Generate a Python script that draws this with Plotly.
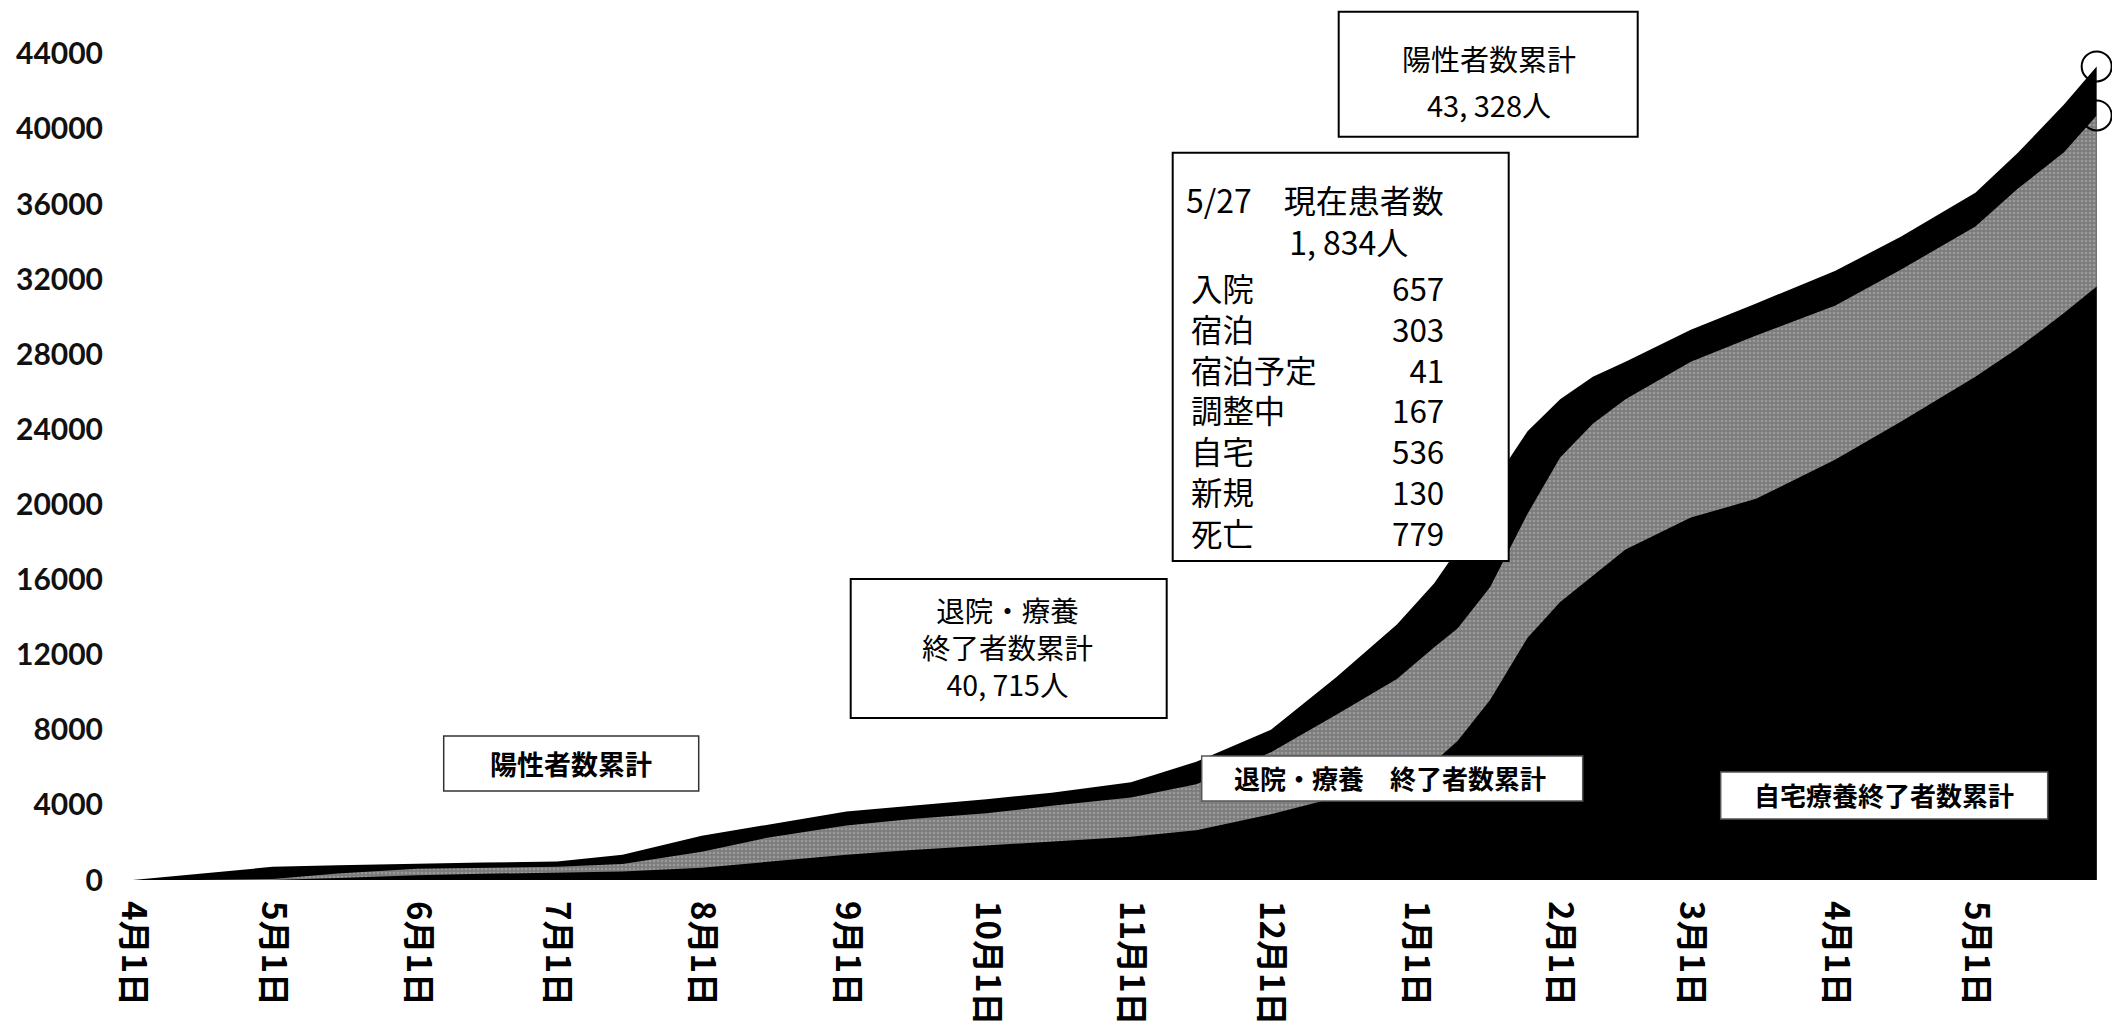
import plotly.graph_objects as go

# ---------------- data ----------------
dates = ['2020-04-01', '2020-04-15', '2020-05-01', '2020-05-15', '2020-06-01', '2020-06-15',
         '2020-07-01', '2020-07-15', '2020-08-01', '2020-08-15', '2020-09-01', '2020-09-15',
         '2020-10-01', '2020-10-15', '2020-11-01', '2020-11-15', '2020-12-01', '2020-12-15',
         '2020-12-28', '2021-01-05', '2021-01-10', '2021-01-17', '2021-01-25', '2021-02-01',
         '2021-02-08', '2021-02-15', '2021-03-01', '2021-03-15', '2021-04-01', '2021-04-15',
         '2021-05-01', '2021-05-10', '2021-05-20', '2021-05-27']

positive_cum = [0, 330, 700, 790, 880, 930,
                980, 1350, 2350, 2950, 3650, 3950,
                4300, 4650, 5200, 6300, 8000, 10800,
                13600, 15800, 17600, 20900, 23900, 25600,
                26800, 27600, 29300, 30700, 32450, 34250,
                36600, 38700, 41300, 43328]

recovered_cum = [0, 0, 50, 350, 600, 660,
                 700, 850, 1500, 2250, 2900, 3250,
                 3550, 3950, 4400, 5100, 6800, 8800,
                 10700, 12400, 13400, 15600, 19500, 22500,
                 24300, 25600, 27600, 29000, 30600, 32500,
                 34800, 36800, 38750, 40715]

home_cum = [0, 0, 0, 100, 250, 330,
            380, 450, 650, 950, 1350, 1600,
            1850, 2050, 2300, 2650, 3500, 4400,
            5400, 6300, 7400, 9600, 12900, 14800,
            16200, 17600, 19300, 20300, 22400, 24400,
            26800, 28300, 30200, 31600]

tick_dates = ['2020-04-01', '2020-05-01', '2020-06-01', '2020-07-01', '2020-08-01',
              '2020-09-01', '2020-10-01', '2020-11-01', '2020-12-01', '2021-01-01',
              '2021-02-01', '2021-03-01', '2021-04-01', '2021-05-01']
tick_text = ['4月1日', '5月1日', '6月1日', '7月1日', '8月1日', '9月1日', '10月1日',
             '11月1日', '12月1日', '1月1日', '2月1日', '3月1日', '4月1日', '5月1日']
y_ticks = list(range(0, 44001, 4000))

table_labels = ['入院', '宿泊', '宿泊予定', '調整中', '自宅', '新規', '死亡']
table_values = ['657', '303', '41', '167', '536', '130', '779']

# ---------------- layout geometry (screen pixels) ----------------
SW, SH = 2120, 1031
OX, OY = 8, 8                       # page body margin offset
W, H = SW - OX, SH - OY             # figure size
L, R, T, B = 128.3, 2106.3, 35.2, 880   # plot area in screen pixels
JP = 'Noto Sans CJK JP'


def px(x):
    return (x - L) / (R - L)


def py(y):
    return (B - y) / (B - T)


fig = go.Figure()

fig.add_trace(go.Scatter(x=dates, y=positive_cum, mode='lines', fill='tozeroy',
                         line=dict(color='black', width=0), fillcolor='black',
                         name='陽性者数累計', hoverinfo='skip'))
fig.add_trace(go.Scatter(x=dates, y=recovered_cum, mode='lines', fill='tozeroy',
                         line=dict(color='#7a7a7a', width=0), fillcolor='#8a8a8a',
                         fillpattern=dict(shape='.', bgcolor='#7c7c7c', fgcolor='#b8b8b8',
                                          size=4, solidity=0.35),
                         name='退院・療養終了者数累計', hoverinfo='skip'))
fig.add_trace(go.Scatter(x=dates, y=home_cum, mode='lines', fill='tozeroy',
                         line=dict(color='black', width=0), fillcolor='black',
                         name='自宅療養終了者数累計', hoverinfo='skip'))
# open circles at the latest values
fig.add_trace(go.Scatter(x=[dates[-1], dates[-1]], y=[positive_cum[-1], recovered_cum[-1]],
                         mode='markers', cliponaxis=False,
                         marker=dict(symbol='circle-open', size=30, color='black',
                                     line=dict(width=2, color='black')),
                         hoverinfo='skip'))

shapes = []
annotations = []


def box(x0, y0, x1, y1, lw=2, col='black'):
    shapes.append(dict(type='rect', xref='paper', yref='paper',
                       x0=px(x0), x1=px(x1), y0=py(y1), y1=py(y0),
                       line=dict(color=col, width=lw), fillcolor='white', layer='above'))


def text(x, y, s, size, xanchor='center', bold=False, align='center'):
    annotations.append(dict(xref='paper', yref='paper', x=px(x), y=py(y), text=s,
                            showarrow=False, xanchor=xanchor, yanchor='middle', align=align,
                            font=dict(family=JP, size=size, color='black',
                                      weight='bold' if bold else 'normal')))


# 陽性者数累計 43,328人
box(1339, 12, 1638, 137)
text(1489, 58, '陽性者数累計', 29)
text(1489, 104, '43, 328人', 29)

# 5/27 現在患者数 table
box(1173, 153, 1509, 561)
text(1184, 220, '5/27　現在患者数<br>　　　 1, 834人', 32, xanchor='left', align='left')
text(1189, 410.5, '<br>'.join(table_labels), 31.4, xanchor='left', align='left')
text(1446, 410.5, '<br>'.join(table_values), 31.4, xanchor='right', align='right')

# 退院・療養 終了者数累計 40,715人
box(851, 579, 1167, 718)
text(1008, 647, '退院・療養<br>終了者数累計<br>40, 715人', 28.5)

# small series labels
box(444, 736, 699, 791, lw=1.5, col='#333')
text(571, 764, '陽性者数累計', 27, bold=True)
box(1202, 756, 1583, 801, lw=1.5, col='#555')
text(1390, 778, '退院・療養　終了者数累計', 26, bold=True)
box(1721, 772, 2048, 819, lw=1.5, col='#555')
text(1884, 795, '自宅療養終了者数累計', 26, bold=True)

fig.update_layout(
    width=W, height=H,
    margin=dict(l=L - OX, r=W - (R - OX), t=T - OY, b=H - (B - OY), autoexpand=False),
    paper_bgcolor='white', plot_bgcolor='white',
    showlegend=False,
    shapes=shapes, annotations=annotations,
    xaxis=dict(range=['2020-03-31', '2021-05-29'], tickmode='array',
               tickvals=tick_dates, ticktext=tick_text, tickangle=90,
               showgrid=False, zeroline=False, showline=False, ticks='',
               ticklabelstandoff=20, automargin=False,
               tickfont=dict(family=JP, size=33, color='black', weight='bold')),
    yaxis=dict(range=[0, 45000], tickmode='array', tickvals=y_ticks,
               ticktext=[str(v) for v in y_ticks],
               showgrid=False, zeroline=False, showline=False, ticks='',
               ticklabelstandoff=24, automargin=False,
               tickfont=dict(family='Lato', size=30, color='#111', weight='bold')),
)

fig.write_html('out.html')
